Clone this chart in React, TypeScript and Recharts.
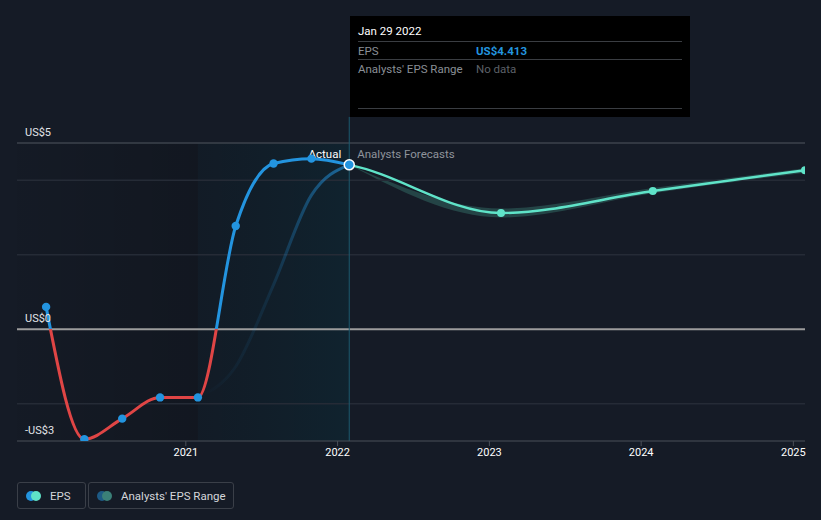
import React from "react";
import { ComposedChart, Line, Area, XAxis, YAxis, ReferenceArea, ReferenceLine } from "recharts";

const day = (s: string) => new Date(s + "T00:00:00Z").getTime();

// reported EPS (quarterly, trailing)
const actualDates = ["2020-01-31", "2020-05-02", "2020-08-01", "2020-10-31", "2021-01-30", "2021-05-01", "2021-07-31", "2021-10-30", "2022-01-29"];
const actualEps = [0.6, -2.95, -2.4, -1.83, -1.83, 2.77, 4.45, 4.58, 4.413];

// faint annual line in the highlighted year
const trailDates = ["2021-01-30", "2021-05-01", "2021-07-31", "2021-10-30", "2022-01-29"];
const trailEps = [-1.83, -1.0, 1.2, 3.6, 4.413];

// analysts forecasts (first entry = last two reported points, so the curve joins smoothly)
const forecastDates = ["2021-10-30", "2022-01-29", "2023-01-29", "2024-01-29", "2025-01-29"];
const forecastEps = [4.58, 4.413, 3.12, 3.71, 4.27];
const rangeDates = ["2022-01-29", "2023-01-29", "2024-01-29", "2025-01-29"];
const rangeLow = [4.413, 3.0, 3.65, 4.2];
const rangeHigh = [4.413, 3.24, 3.79, 4.32];

const yearTicks = ["2021-01-01", "2022-01-01", "2023-01-01", "2024-01-01", "2025-01-01"];
const yLabelValues = [5, 0, -3];
const gridValues = [4, 2, -2];

const xStart = day("2019-11-22");
const xEnd = day("2025-01-29");
const highlightStart = day("2021-01-30");
const today = day("2022-01-29");

type Row = { t: number; eps?: number; trail?: number; fc?: number; range?: [number, number] };

const rowsByT = new Map<number, Row>();
const rowAt = (t: number) => {
  if (!rowsByT.has(t)) rowsByT.set(t, { t });
  return rowsByT.get(t)!;
};
actualDates.forEach((s, i) => (rowAt(day(s)).eps = actualEps[i]));
trailDates.forEach((s, i) => (rowAt(day(s)).trail = trailEps[i]));
forecastDates.forEach((s, i) => (rowAt(day(s)).fc = forecastEps[i]));
rangeDates.forEach((s, i) => (rowAt(day(s)).range = [rangeLow[i], rangeHigh[i]]));
const data = Array.from(rowsByT.values()).sort((a, b) => a.t - b.t);

const FONT = "Roboto, 'Open Sans', sans-serif";
const BLUE = "#2394df";
const RED = "#e04545";
const TEAL = "#5fe3c8";

// plot box
const M = { top: 143, right: 16, bottom: 49, left: 17 };
const W = 821;
const todayOffset = (today - xStart) / (xEnd - xStart);

function money(v: number) {
  return v < 0 ? `-US$${-v}` : `US$${v}`;
}

function YLabel(props: any) {
  const { y, payload } = props;
  return (
    <text x={25} y={y - 7} fill="#e2e4e8" fontSize={11} fontFamily={FONT}>
      {money(payload.value)}
    </text>
  );
}

function EpsDot(props: any) {
  const { cx, cy, payload, index } = props;
  if (cx == null || cy == null || payload.eps == null) return <g key={`d${index}`} />;
  if (payload.t === today) {
    return <circle key={`d${index}`} cx={cx} cy={cy} r={5} fill={BLUE} stroke="#ffffff" strokeWidth={1.5} />;
  }
  return <circle key={`d${index}`} cx={cx} cy={cy} r={4.2} fill={BLUE} />;
}

function FcDot(props: any) {
  const { cx, cy, payload, index } = props;
  if (cx == null || cy == null || payload.fc == null || payload.t <= today) return <g key={`f${index}`} />;
  return <circle key={`f${index}`} cx={cx} cy={cy} r={4} fill={TEAL} />;
}

function SplitLabel(props: any) {
  const { viewBox } = props;
  const x = viewBox.x;
  const y = viewBox.y + 15;
  return (
    <g fontFamily={FONT} fontSize={11.5}>
      <text x={x - 8} y={y} textAnchor="end" fill="#ffffff">Actual</text>
      <text x={x + 8} y={y} textAnchor="start" fill="#8f949c">Analysts Forecasts</text>
    </g>
  );
}

function Tip() {
  const row: React.CSSProperties = { display: "flex", height: 17, alignItems: "center", borderTop: "1px solid #3a3d42" };
  return (
    <div style={{ position: "absolute", left: 350, top: 16, width: 340, height: 101, background: "#000", fontFamily: FONT, fontSize: 11.5, boxSizing: "border-box", padding: "0 8px" }}>
      <div style={{ color: "#fff", height: 25, display: "flex", alignItems: "center", paddingTop: 4, boxSizing: "border-box" }}>Jan 29 2022</div>
      <div style={row}>
        <span style={{ width: 118, color: "#8a8f96" }}>EPS</span>
        <span style={{ color: BLUE, fontWeight: 700 }}>US$4.413</span>
      </div>
      <div style={row}>
        <span style={{ width: 118, color: "#8a8f96" }}>Analysts' EPS Range</span>
        <span style={{ color: "#5d6168" }}>No data</span>
      </div>
      <div style={{ position: "absolute", left: 8, right: 8, top: 92, borderTop: "1px solid #3a3d42" }} />
    </div>
  );
}

function LegendBox({ a, b, label, width }: { a: string; b: string; label: string; width: number }) {
  return (
    <div style={{ display: "flex", alignItems: "center", height: 27, width, boxSizing: "border-box", border: "1px solid #3a3f48", borderRadius: 3, paddingLeft: 8, marginRight: 2 }}>
      <span style={{ position: "relative", width: 16, height: 10, marginRight: 8 }}>
        <span style={{ position: "absolute", left: 0, top: 0, width: 10, height: 10, borderRadius: 5, background: a }} />
        <span style={{ position: "absolute", left: 5, top: 0, width: 10, height: 10, borderRadius: 5, background: b }} />
      </span>
      <span style={{ color: "#d4d6da", fontSize: 11.5, fontFamily: FONT }}>{label}</span>
    </div>
  );
}

export default function App() {
  return (
    <div style={{ position: "absolute", left: 0, top: 0, width: 821, height: 520, background: "#151b26", overflow: "hidden" }}>
      <ComposedChart width={W} height={520} data={data} margin={M}>
        <defs>
          <linearGradient id="epsGrad" gradientUnits="userSpaceOnUse" x1={0} y1={143} x2={0} y2={441}>
            <stop offset="0.624" stopColor={BLUE} />
            <stop offset="0.624" stopColor={RED} />
          </linearGradient>
          <linearGradient id="fcGrad" gradientUnits="userSpaceOnUse" x1={M.left} y1={0} x2={W - M.right} y2={0}>
            <stop offset={todayOffset} stopColor={TEAL} stopOpacity={0} />
            <stop offset={todayOffset} stopColor={TEAL} stopOpacity={1} />
          </linearGradient>
          <linearGradient id="trailGrad" gradientUnits="userSpaceOnUse" x1={200} y1={0} x2={350} y2={0}>
            <stop offset="0" stopColor={BLUE} stopOpacity={0} />
            <stop offset="0.45" stopColor={BLUE} stopOpacity={0.12} />
            <stop offset="1" stopColor={BLUE} stopOpacity={0.65} />
          </linearGradient>
          <linearGradient id="hlGrad" x1="0" y1="0" x2="1" y2="0">
            <stop offset="0" stopColor="#001e28" stopOpacity={0.3} />
            <stop offset="1" stopColor="#003a48" stopOpacity={0.5} />
          </linearGradient>
          <linearGradient id="pastGrad" x1="0" y1="0" x2="1" y2="0">
            <stop offset="0" stopColor="#000" stopOpacity={0.05} />
            <stop offset="1" stopColor="#000" stopOpacity={0.3} />
          </linearGradient>
        </defs>
        <XAxis
          dataKey="t"
          type="number"
          domain={[xStart, xEnd]}
          allowDataOverflow
          ticks={yearTicks.map(day)}
          tickFormatter={(v: number) => String(new Date(v).getUTCFullYear())}
          height={30}
          stroke="#4b5059"
          tickSize={5}
          tick={{ fill: "#ffffff", fontSize: 11, fontFamily: FONT }}
        />
        <YAxis
          type="number"
          domain={[-3, 5]}
          allowDataOverflow
          mirror
          ticks={yLabelValues}
          interval={0}
          axisLine={false}
          tickLine={false}
          tick={<YLabel />}
        />
        <ReferenceArea x1={xStart} x2={highlightStart} y1={-3} y2={5} fill="url(#pastGrad)" stroke="none" />
        {gridValues.map((v) => (
          <ReferenceLine key={v} y={v} stroke="#252b36" strokeWidth={1.5} />
        ))}
        <ReferenceLine y={5} stroke="#3d434d" strokeWidth={1.5} />
        <ReferenceLine y={0} stroke="#9c9c9c" strokeWidth={2} />
        <ReferenceArea x1={highlightStart} x2={today} y1={-3} y2={5} fill="url(#hlGrad)" stroke="none" />
        <ReferenceLine
          segment={[{ x: today, y: -3 }, { x: today, y: 5.7 }]}
          ifOverflow="visible"
          stroke="#1c5a6e"
          strokeWidth={1}
        />
        <ReferenceLine x={today} stroke="none" label={<SplitLabel />} />
        <Area
          dataKey="range"
          type="monotone"
          fill="#2b5654"
          fillOpacity={0.7}
          stroke="none"
          connectNulls
          activeDot={false}
          isAnimationActive={false}
        />
        <Line dataKey="trail" type="monotone" stroke="url(#trailGrad)" strokeWidth={3} dot={false} connectNulls isAnimationActive={false} />
        <Line dataKey="fc" type="monotone" stroke="url(#fcGrad)" strokeWidth={2.5} dot={FcDot} connectNulls isAnimationActive={false} />
        <Line dataKey="eps" type="monotone" stroke="url(#epsGrad)" strokeWidth={3} dot={EpsDot} connectNulls isAnimationActive={false} />
      </ComposedChart>
      <Tip />
      <div style={{ position: "absolute", left: 17, top: 482, display: "flex" }}>
        <LegendBox a={BLUE} b={TEAL} label="EPS" width={69} />
        <LegendBox a="#1d5a85" b="#3b8078" label="Analysts' EPS Range" width={146} />
      </div>
    </div>
  );
}
